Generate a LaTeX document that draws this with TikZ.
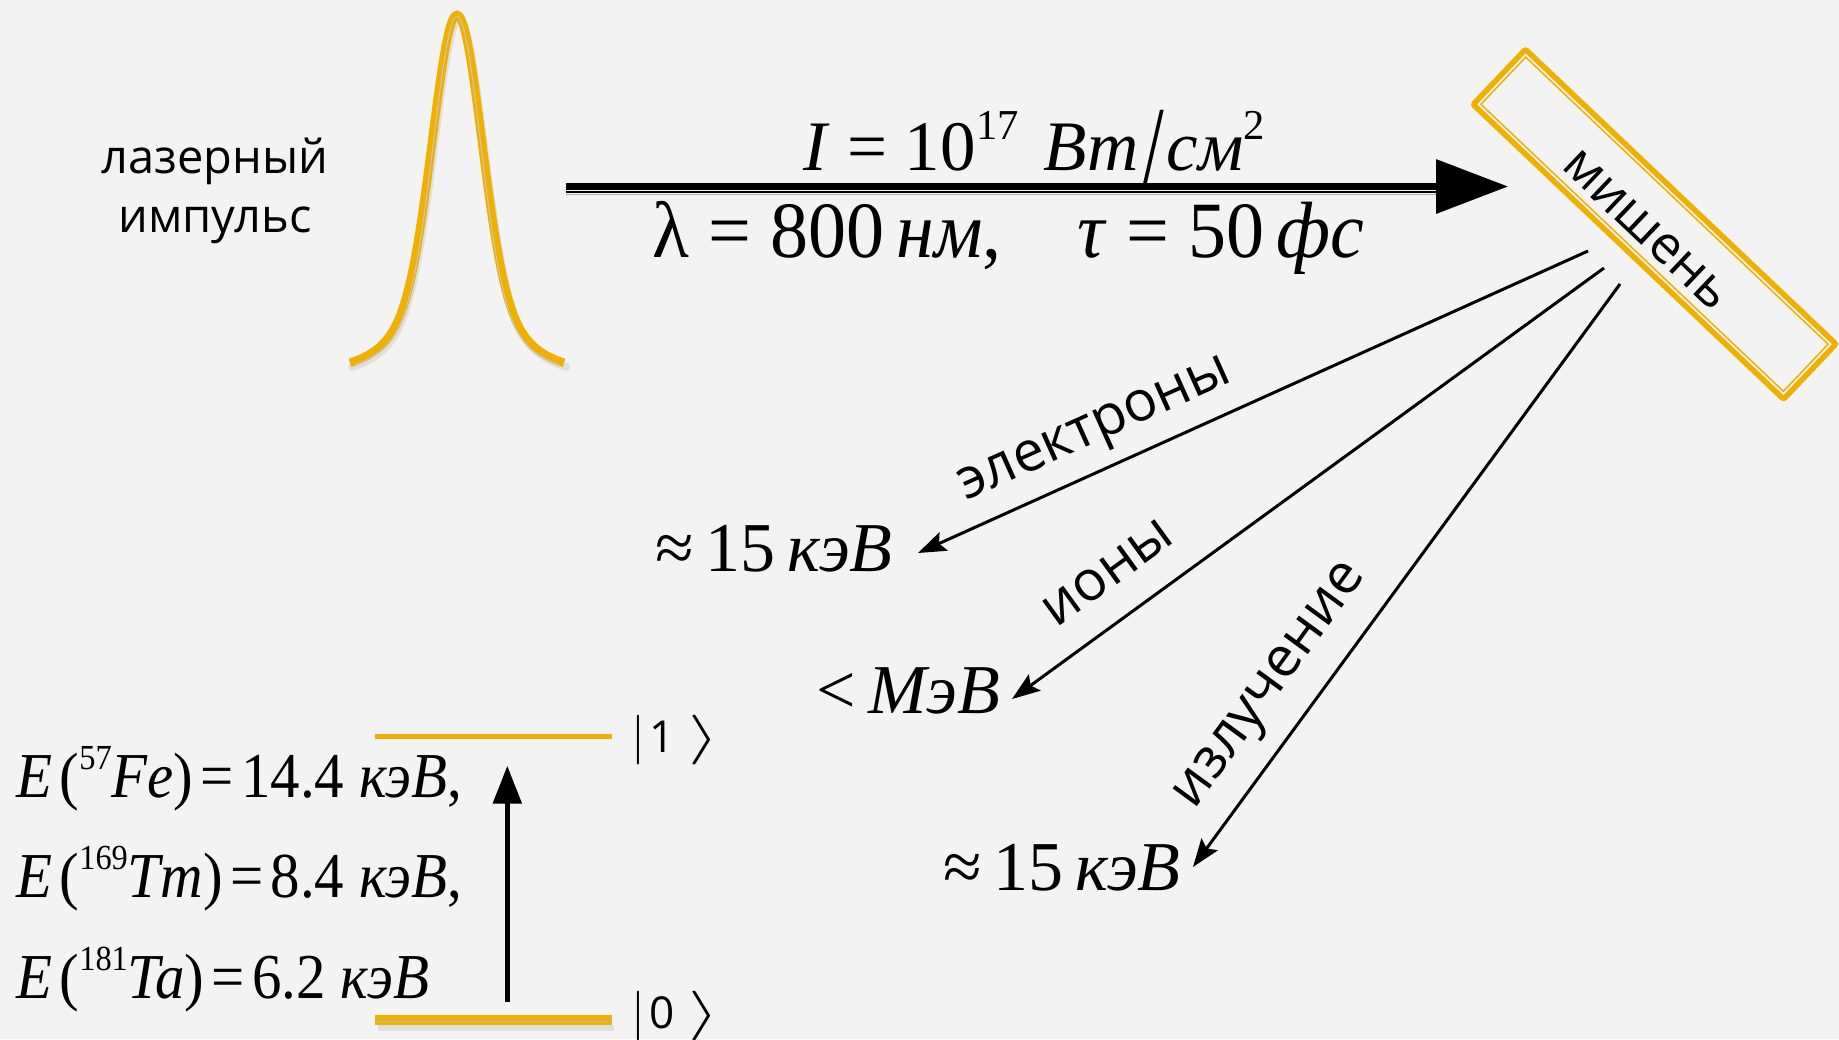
\documentclass[tikz,border=0pt]{standalone}
\usepackage{fontspec}
\usepackage{graphicx}
\setmainfont{Liberation Serif}
\newfontfamily\lbl{Open Sans}
\usetikzlibrary{arrows.meta}
\definecolor{bgc}{RGB}{243,243,243}
\definecolor{gold}{RGB}{240,176,0}
\newcommand\supx[2][0.55]{\raisebox{0.43em}{\scalebox{#1}{#2}}}
\newcommand\slashbig{\kern1.5pt\raisebox{-0.25em}{\scalebox{1.1}[1.65]{/}}\kern1.5pt}
\newcommand\eqs{\kern4pt=\kern4pt}
\newcommand\ketR{\scalebox{1.6}[1]{$\rangle$}}
\begin{document}
\begin{tikzpicture}[x=0.5pt,y=-0.5pt,
  lbl/.style={font=\lbl\fontsize{23.5}{28}\selectfont, inner sep=0pt},
  rlbl/.style={font=\lbl\fontsize{28}{30}\selectfont, inner sep=0pt},
  frm/.style={inner sep=0pt, anchor=base},
  big/.style={font=\fontsize{35}{40}\selectfont},
  eq/.style={font=\fontsize{32}{36}\selectfont, anchor=base west, inner sep=0pt},
  ket/.style={font=\fontsize{28}{30}\selectfont, inner sep=0pt, anchor=base west},
  ray/.style={line width=1.5pt, -{Stealth[length=14pt,width=10pt,inset=2.5pt]}},
]
\fill[bgc] (0,0) rectangle (1839,1039);
\useasboundingbox (0,0) rectangle (1839,1039);

% laser pulse label
\node[lbl, anchor=base] (laser1) at (215,173) {лазерный};
\node[lbl, anchor=base] (laser2) at (215,232) {импульс};

% pulse
\draw[black, opacity=0.08, line width=4pt, line cap=round]
  plot[domain=-107:107, samples=101, smooth] ({459+(\x)}, {374-355*(0.8*exp(-(\x)*(\x)/1152)+0.2*exp(-(\x)*(\x)/5000))});
\draw[gold, line width=4.3pt]
  plot[domain=-107:107, samples=101, smooth] ({457+(\x)}, {370-355*(0.8*exp(-(\x)*(\x)/1152)+0.2*exp(-(\x)*(\x)/5000))});
\draw[gray!45, line width=0.5pt]
  plot[domain=-107:107, samples=101, smooth] ({457+0.95*(\x)}, {371.5-355*(0.8*exp(-(\x)*(\x)/1152)+0.2*exp(-(\x)*(\x)/5000))});

% laser beam arrow
\coordinate (beamstart) at (566,186.5);
\coordinate (beamend) at (1508,186.5);
\coordinate (thinstart) at (566,192.2);
\coordinate (thinend) at (1440,192.2);
\draw[gray!60, line width=0.5pt] (566,194.2) -- (1440,194.2);
\draw[line width=1.15pt] (thinstart) -- (thinend);
\draw[line width=3.35pt, -{Triangle[length=36pt,width=26.5pt]}] (beamstart) -- (beamend);

\node[frm, font=\fontsize{35.5}{40}\selectfont] (intensity) at (1034,170)
  {\textit{I} = 10\supx[0.6]{17}\kern12.5pt\textit{Вт}\slashbig\textit{см}\supx[0.6]{2}};
\node[frm, font=\fontsize{38}{42}\selectfont] (params) at (1008.5,257)
  {\scalebox{1}[1.05]{λ = 800\,\textit{нм},\quad \textit{τ} = 50\,\textit{фс}}};

% target
\node[draw=gold, line width=2.75pt, minimum width=214pt, minimum height=38pt,
  rotate=-43.5, inner sep=0pt, rounded corners=1pt] (target) at (1654.5,224.25) {};
\node[draw=gold, line width=0.75pt, minimum width=208.5pt, minimum height=32.5pt,
  rotate=-43.5, inner sep=0pt] (targetinner) at (1654.5,224.25) {};
\node[font=\lbl\fontsize{26}{30}\selectfont, inner sep=0pt, rotate=-43.5] (targetlabel) at (1646,230) {мишень};

% emitted particles
\coordinate (eS) at (1588,251);
\coordinate (eE) at (918,553);
\coordinate (iS) at (1604,268);
\coordinate (iE) at (1012,699);
\coordinate (rS) at (1620,284);
\coordinate (rE) at (1193,867);
\draw[ray] (eS) -- (eE);
\draw[ray] (iS) -- (iE);
\draw[ray] (rS) -- (rE);
\node[rlbl, rotate=24.1] (lblE) at (1097,433) {электроны};
\node[rlbl, rotate=36] (lblI) at (1108,573) {ионы};
\node[rlbl, rotate=53.9] (lblR) at (1273,688) {излучение};

\node[frm, big] (valE) at (774,571) {≈\,15\,\textit{кэВ}};
\node[frm, big] (valI) at (908.5,713) {<\,\textit{МэВ}};
\node[frm, big] (valR) at (1062,890) {≈\,15\,\textit{кэВ}};

% energy levels
\draw[gold, line width=2.35pt] (375,736.7) -- (611.7,736.7);
\draw[black, opacity=0.08, line width=3pt] (378,1028) -- (614,1028);
\draw[gold, line width=5pt] (375,1020) -- (611.7,1020);
\draw[gray!55, line width=0.5pt] (375,1021.8) -- (611.7,1021.8);
\coordinate (tr0) at (507.3,1002);
\coordinate (tr1) at (507.3,765.7);
\draw[line width=2.8pt, -{Triangle[length=19pt,width=14pt]}] (tr0) -- (tr1);

\node[ket] (ket1) at (631,752) {$|$\kern2pt{\lbl\fontsize{22}{24}\selectfont 1}\kern7pt\ketR};
\node[ket] (ket0) at (631,1028) {$|$\kern2pt{\lbl\fontsize{22}{24}\selectfont 0}\kern7pt\ketR};

\node[eq] (eFe) at (16,797) {\scalebox{0.92}[1]{\textit{E}\kern4pt(\supx{57}\textit{Fe})\eqs 14.4 \textit{кэВ},}};
\node[eq] (eTm) at (16,897) {\scalebox{0.92}[1]{\textit{E}\kern4pt(\supx{169}\textit{Tm})\eqs 8.4 \textit{кэВ},}};
\node[eq] (eTa) at (16,998) {\scalebox{0.92}[1]{\textit{E}\kern4pt(\supx{181}\textit{Ta})\eqs 6.2 \textit{кэВ}}};
\end{tikzpicture}
\end{document}
